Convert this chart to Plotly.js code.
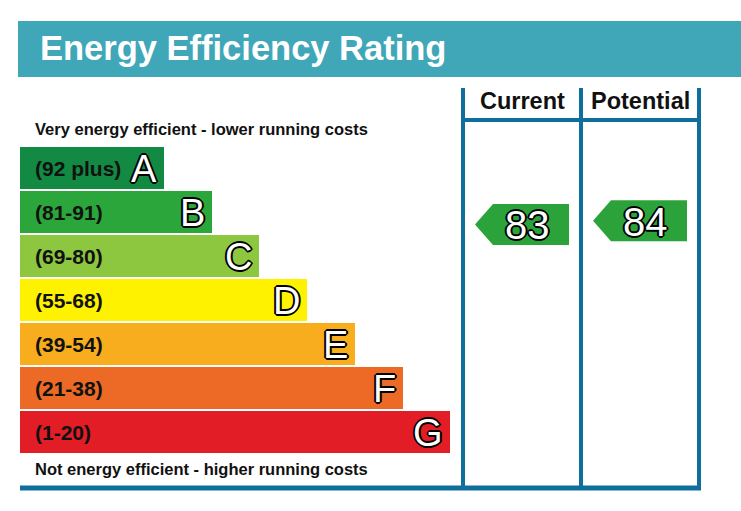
<!DOCTYPE html>
<html>
<head>
<meta charset="utf-8">
<script src="https://cdn.plot.ly/plotly-3.0.1.min.js"></script>
<style>html,body{margin:0;padding:0;background:#fff;}#chart{width:741px;height:511px;}</style>
</head>
<body>
<div id="chart"></div>
<script>
// ---- data ----
var bands = ['A', 'B', 'C', 'D', 'E', 'F', 'G'];
var bandRanges = ['(92 plus)', '(81-91)', '(69-80)', '(55-68)', '(39-54)', '(21-38)', '(1-20)'];
var bandMin = [92, 81, 69, 55, 39, 21, 1];
var bandMax = [100, 91, 80, 68, 54, 38, 20];
var bandColors = ['#138a43', '#2ba63a', '#8dc63f', '#fff200', '#f7ad1e', '#ec6a25', '#e31d25'];
var columns = ['Current', 'Potential'];
var ratings = [83, 84];
var titleText = 'Energy Efficiency Rating';
var topNote = 'Very energy efficient - lower running costs';
var bottomNote = 'Not energy efficient - higher running costs';

// ---- geometry (pixel-space axes) ----
var W = 741, H = 511;
var barLeft = 20, barTop = 147, barPitch = 44, barH = 42;
var barLen0 = 144, barStep = 47.7;
var colLines = [463, 581, 699];
var lineColor = '#0f6f9c';
var arrowGreen = '#2ca23a';
var FONT = 'Liberation Sans, Arial, sans-serif';

var yCenters = bands.map(function (b, i) { return barTop + i * barPitch + barH / 2; });
var lengths = bands.map(function (b, i) { return barLen0 + i * barStep; });

function ratingY(v) {
  for (var i = 0; i < bands.length; i++) {
    if (v >= bandMin[i] && v <= bandMax[i]) {
      var top = barTop + i * barPitch;
      var frac = (bandMax[i] + 0.5 - v) / (bandMax[i] - bandMin[i] + 1);
      return top + frac * barH + 1;
    }
  }
  return yCenters[yCenters.length - 1];
}

var traces = [{
  type: 'bar', orientation: 'h',
  y: yCenters, x: lengths, base: barLeft, width: barH,
  marker: { color: bandColors, line: { width: 0 } },
  hoverinfo: 'skip', showlegend: false
}];

var annotations = [];
var outline = '1px 1px 0 #000, -1px -1px 0 #000, 1px -1px 0 #000, -1px 1px 0 #000, 0 1px 0 #000, 0 -1px 0 #000, 1px 0 0 #000, -1px 0 0 #000, 2px 0 0 #000, -2px 0 0 #000, 0 2px 0 #000, 0 -2px 0 #000';

bands.forEach(function (b, i) {
  annotations.push({
    x: 33, y: yCenters[i], xref: 'x', yref: 'y', xanchor: 'left', yanchor: 'middle',
    text: bandRanges[i], showarrow: false,
    font: { family: FONT, size: 21, color: '#111', weight: 'bold' }
  });
  annotations.push({
    x: barLeft + lengths[i] - 5, y: yCenters[i] + 1, xref: 'x', yref: 'y', xanchor: 'right', yanchor: 'middle',
    text: b, showarrow: false,
    font: { family: FONT, size: 38, color: '#fff', shadow: outline }
  });
});

var arrowH = 41, arrowHead = 18, arrowW = 94;
ratings.forEach(function (v, k) {
  var c = ratingY(v);
  var tip = colLines[k] + 12;
  var right = tip + arrowW;
  traces.push({
    type: 'scatter', mode: 'lines', fill: 'toself', fillcolor: arrowGreen,
    x: [tip, tip + arrowHead, right, right, tip + arrowHead, tip],
    y: [c, c - arrowH / 2, c - arrowH / 2, c + arrowH / 2, c + arrowH / 2, c],
    line: { width: 0, color: arrowGreen }, hoverinfo: 'skip', showlegend: false
  });
  annotations.push({
    x: (tip + arrowHead + right) / 2 - 4, y: c + 1, xref: 'x', yref: 'y', xanchor: 'center', yanchor: 'middle',
    text: String(v), showarrow: false,
    font: { family: FONT, size: 40, color: '#fff', shadow: outline }
  });
  annotations.push({
    x: (colLines[k] + colLines[k + 1]) / 2, y: 101, xref: 'x', yref: 'y', xanchor: 'center', yanchor: 'middle',
    text: columns[k], showarrow: false,
    font: { family: FONT, size: 23.5, color: '#111', weight: 'bold' }
  });
});

annotations.push({
  x: 38, y: 48, xref: 'x', yref: 'y', xanchor: 'left', yanchor: 'middle',
  text: titleText, showarrow: false,
  font: { family: FONT, size: 34.5, color: '#fff', weight: 'bold' }
});
annotations.push({
  x: 33, y: 129, xref: 'x', yref: 'y', xanchor: 'left', yanchor: 'middle',
  text: topNote, showarrow: false,
  font: { family: FONT, size: 16.5, color: '#111', weight: 'bold' }
});
annotations.push({
  x: 33, y: 469, xref: 'x', yref: 'y', xanchor: 'left', yanchor: 'middle',
  text: bottomNote, showarrow: false,
  font: { family: FONT, size: 16.5, color: '#111', weight: 'bold' }
});

var shapes = [
  { type: 'rect', xref: 'x', yref: 'y', x0: 18, x1: 741, y0: 21, y1: 77, fillcolor: '#3fa7b8', line: { width: 0 }, layer: 'below' },
  { type: 'line', xref: 'x', yref: 'y', x0: 20, x1: 701, y0: 488, y1: 488, line: { color: lineColor, width: 5 } },
  { type: 'line', xref: 'x', yref: 'y', x0: colLines[0], x1: colLines[2], y0: 120, y1: 120, line: { color: lineColor, width: 4 } }
];
colLines.forEach(function (x) {
  shapes.push({ type: 'line', xref: 'x', yref: 'y', x0: x, x1: x, y0: 88, y1: 490, line: { color: lineColor, width: 4 } });
});

var layout = {
  width: W, height: H,
  margin: { l: 0, r: 0, t: 0, b: 0, pad: 0 },
  paper_bgcolor: '#fff', plot_bgcolor: '#fff',
  xaxis: { range: [0, W], visible: false, fixedrange: true },
  yaxis: { range: [H, 0], visible: false, fixedrange: true },
  bargap: 0, showlegend: false,
  shapes: shapes, annotations: annotations
};

Plotly.newPlot('chart', traces, layout, { staticPlot: true, displayModeBar: false });
</script>
</body>
</html>
